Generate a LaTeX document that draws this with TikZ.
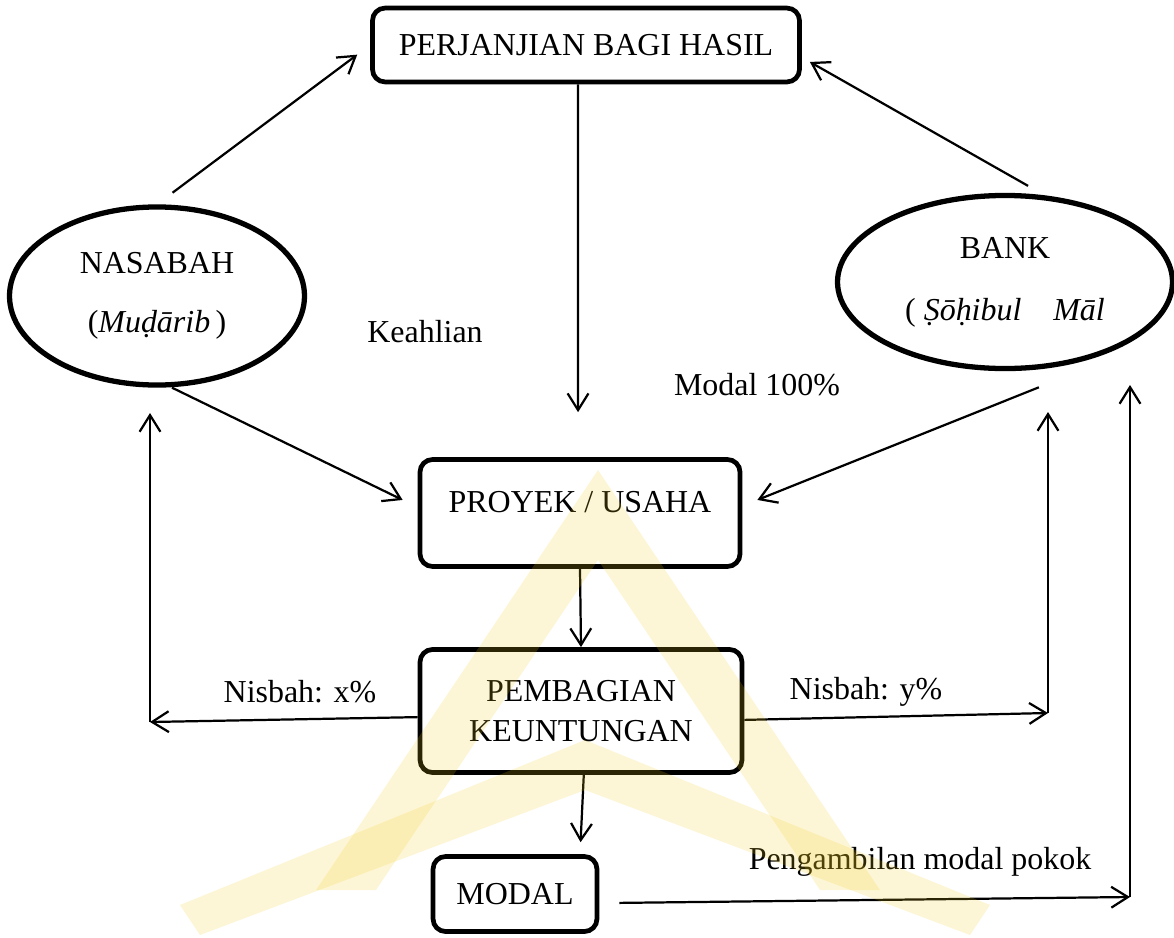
\documentclass[tikz,border=0pt]{standalone}
\usepackage{fontspec}
\setmainfont{Liberation Serif}
\usetikzlibrary{positioning,arrows.meta,calc,shapes.geometric}
\definecolor{inkc}{HTML}{000000}
\definecolor{wmc}{HTML}{F2CC1E}
\newcommand{\fs}{\fontsize{11.5}{14.4}\selectfont}
\tikzset{
  blk/.style ={draw=inkc,line width=1.7pt,rounded corners=4.5pt,align=center,
               font=\fs,inner sep=2pt},
  elp/.style ={ellipse,draw=inkc,line width=1.9pt,align=center,font=\fs,inner sep=0pt},
  lbl/.style ={font=\fs,text=inkc},
  ar/.style  ={-{Straight Barb[length=6pt,width=7.5pt]},draw=inkc,line width=.8pt},
  wm/.style  ={fill=wmc,fill opacity=.18},
}

\begin{document}
\begin{tikzpicture}[x=0.36pt,y=-0.36pt]
\useasboundingbox (0,0) rectangle (1174,937);

% ============================ parties ===================================
\node[blk,minimum width=153.7pt,minimum height=26.6pt] (perj) at (586,45) {PERJANJIAN BAGI HASIL};
\node[elp,minimum width=106.2pt,minimum height=64.1pt] (nasabah) at (157,296)
  {NASABAH\\[7pt](\textit{Muḍārib}\,)};
\node[elp,minimum width=120.6pt,minimum height=62.3pt] (bank) at (1005,282)
  {BANK\\[8pt]( \textit{Ṣōḥibul\quad Māl}};
\node[lbl] (keahlian) at (425,332) {Keahlian};
\node[lbl] (mod100) at (757,385) {Modal 100\%};

% ============================ flow ======================================
\node[blk,minimum width=115.2pt,minimum height=38.5pt,text depth=8pt] (proyek) at (580,513) {PROYEK / USAHA};
\node[blk,minimum width=115.9pt,minimum height=44.3pt] (bagi) at (581,711) {PEMBAGIAN\\KEUNTUNGAN};
\node[blk,minimum width=59pt,minimum height=27pt] (modal) at (515,894) {MODAL};
\node[lbl] (nx) at (300,692) {Nisbah: x\%};
\node[lbl] (ny) at (866,692) {Nisbah: y\%};
\node[lbl] (ambil) at (920,862) {Pengambilan modal pokok};

\coordinate (lc) at (150,722);  \coordinate (lt) at (150,413);
\coordinate (rc) at (1048,713); \coordinate (rt) at (1048,412);
\coordinate (bc) at (1130,897); \coordinate (bt) at (1130,385);

\draw[ar,shorten <=7pt,shorten >=5.8pt] (nasabah.north) -- (perj.west);
\draw[ar] ([xshift=8.3pt,yshift=2.5pt]bank.north) -- ([xshift=2.9pt,yshift=-6.1pt]perj.east);
\draw[ar,shorten >=16.2pt] ([xshift=-2.9pt]perj.south) -- ([xshift=-0.7pt]proyek.north);
\draw[ar] ([xshift=5.4pt]nasabah.south) -- ([xshift=-5.4pt,yshift=4.7pt]proyek.west);
\draw[ar] ([xshift=12.2pt,yshift=-5.8pt]bank.south) -- ([xshift=5.4pt,yshift=4.7pt]proyek.east);
\draw[ar] (proyek.south) -- (bagi.north);
\draw[ar] ([yshift=-2.2pt]bagi.west) -- (lc); \draw[ar] (lc) -- (lt);
\draw[ar] ([yshift=-3.2pt]bagi.east) -- (rc); \draw[ar] (rc) -- (rt);
\draw[ar,shorten >=4.3pt] ([xshift=1pt]bagi.south) -- ([xshift=23.4pt]modal.north);
\draw[ar] ([xshift=7.2pt,yshift=-3.2pt]modal.east) -- (bc); \draw[ar] (bc) -- (bt);

% watermark
\fill[wm] (598,470) -- (880,890) -- (820,890) -- (598,560) -- (376,890) -- (316,890) -- cycle;
\fill[wm] (585,740) -- (990,905) -- (970,935) -- (585,790) -- (200,935) -- (180,905) -- cycle;
\end{tikzpicture}
\end{document}
